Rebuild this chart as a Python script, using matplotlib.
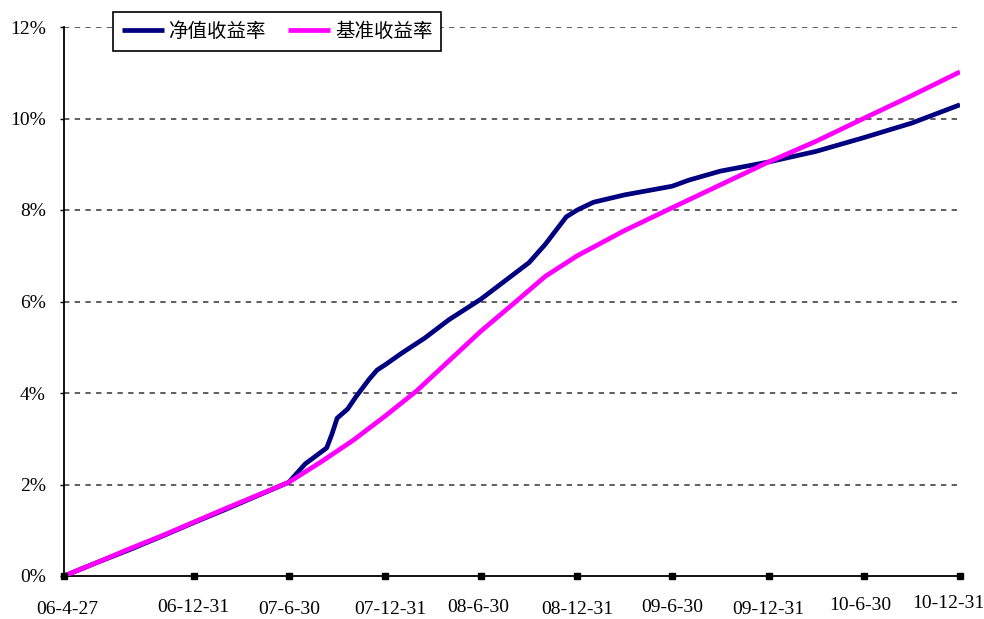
import numpy as np
import pandas as pd
import matplotlib
matplotlib.use("Agg")
import matplotlib.pyplot as plt

# 净值收益率 (fund NAV return, %)
nav_dates = ["2006-04-27", "2006-06-30", "2006-08-31", "2006-10-31", "2006-12-31",
             "2007-02-28", "2007-04-30", "2007-06-30", "2007-07-31", "2007-08-20",
             "2007-09-10", "2007-09-20", "2007-09-30", "2007-10-20", "2007-11-05",
             "2007-11-30", "2007-12-15", "2007-12-31", "2008-01-31", "2008-03-15",
             "2008-04-30", "2008-06-30", "2008-08-15", "2008-09-30", "2008-10-31",
             "2008-11-20", "2008-12-10", "2008-12-31", "2009-01-31", "2009-03-31",
             "2009-06-30", "2009-07-31", "2009-09-30", "2009-12-31", "2010-03-31",
             "2010-06-30", "2010-09-30", "2010-12-31"]
nav_values = [0.00, 0.30, 0.58, 0.87, 1.17,
              1.45, 1.75, 2.05, 2.45, 2.62,
              2.80, 3.10, 3.45, 3.65, 3.92,
              4.30, 4.50, 4.62, 4.87, 5.20,
              5.60, 6.05, 6.45, 6.85, 7.25,
              7.55, 7.85, 8.00, 8.17, 8.33,
              8.52, 8.65, 8.85, 9.05, 9.28,
              9.58, 9.90, 10.30]

# 基准收益率 (benchmark return, %)
bench_dates = ["2006-04-27", "2006-06-30", "2006-08-31", "2006-10-31", "2006-12-31",
               "2007-02-28", "2007-04-30", "2007-06-30", "2007-08-31", "2007-10-31",
               "2007-12-31", "2008-02-29", "2008-04-30", "2008-06-30", "2008-08-31",
               "2008-10-31", "2008-12-31", "2009-03-31", "2009-06-30", "2009-09-30",
               "2009-12-31", "2010-03-31", "2010-06-30", "2010-09-30", "2010-12-31"]
bench_values = [0.00, 0.30, 0.60, 0.88, 1.18,
                1.47, 1.76, 2.05, 2.50, 2.97,
                3.50, 4.05, 4.70, 5.35, 5.95,
                6.55, 7.00, 7.55, 8.05, 8.55,
                9.05, 9.50, 10.00, 10.50, 11.02]

tick_dates = ["2006-04-27", "2006-12-31", "2007-06-30", "2007-12-31", "2008-06-30",
              "2008-12-31", "2009-06-30", "2009-12-31", "2010-06-30", "2010-12-31"]
tick_labels = ["06-4-27", "06-12-31", "07-6-30", "07-12-31", "08-6-30",
               "08-12-31", "09-6-30", "09-12-31", "10-6-30", "10-12-31"]
# Excel-style stagger of the date labels (pixels below / sideways from the tick)
label_drop = [34, 31, 34, 34, 31, 34, 31, 34, 29, 27]
label_shift = [3, -1, 0, 5, -3, 0, 0, 0, -3, -12]

y_ticks = [0, 2, 4, 6, 8, 10, 12]

plt.rcParams['font.family'] = ['Liberation Serif', 'Noto Sans CJK SC']

fig = plt.figure(figsize=(9.84, 6.19), dpi=100)
ax = fig.add_axes([64 / 984, 1 - 576 / 619, 896 / 984, 549 / 619])

nav_x = pd.to_datetime(nav_dates)
bench_x = pd.to_datetime(bench_dates)
tx = pd.to_datetime(tick_dates)

for y in y_ticks[1:]:
    ax.axhline(y, color='#333333', lw=1.1, ls=(0, (3.5, 3.5)), zorder=1)

ax.plot(nav_x, nav_values, color='#000080', lw=3.4, label='净值收益率', zorder=3,
        solid_capstyle='butt')
ax.plot(bench_x, bench_values, color='#FF00FF', lw=3.4, label='基准收益率', zorder=4,
        solid_capstyle='butt')

ax.set_xlim(tx[0], tx[-1])
ax.set_ylim(0, 12)

ax.set_yticks(y_ticks)
ax.set_yticklabels([f"{v}%" for v in y_ticks], fontsize=14)
ax.tick_params(axis='y', direction='out', length=3, width=1, pad=10, colors='black')

ax.set_xticks([])
ax.plot(tx, np.zeros(len(tx)), 's', color='black', ms=5, clip_on=False, zorder=5)
for d, lab, dy, dx in zip(tx, tick_labels, label_drop, label_shift):
    ax.annotate(lab, xy=(d, 0), xycoords=('data', 'axes fraction'),
                xytext=(dx * 0.72, -dy * 0.72), textcoords='offset points',
                ha='center', va='center', fontsize=14)

for s in ['top', 'right']:
    ax.spines[s].set_visible(False)
ax.spines['left'].set_linewidth(1.3)
ax.spines['bottom'].set_linewidth(1.3)

leg = ax.legend(loc='upper left', bbox_to_anchor=(113 / 984, 1 - 12 / 619),
                bbox_transform=fig.transFigure, ncol=2, frameon=True, fancybox=False,
                edgecolor='black', framealpha=1, handlelength=2.15,
                columnspacing=1.15, handletextpad=0.25, borderpad=0.45,
                borderaxespad=0,
                prop={'family': ['Noto Sans CJK SC'], 'size': 14})
leg.get_frame().set_linewidth(1.2)
leg.set_zorder(10)

fig.savefig("out.png", dpi=100)
